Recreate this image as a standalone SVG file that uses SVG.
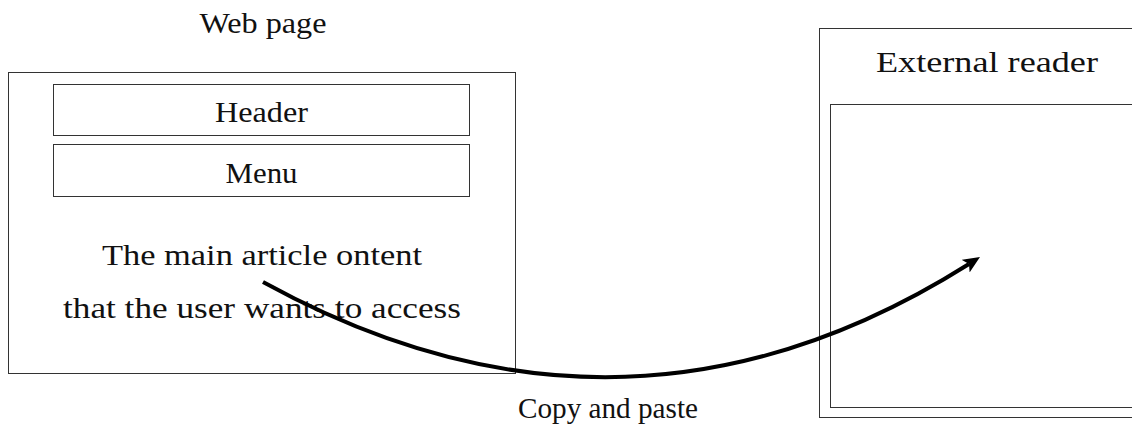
<svg xmlns="http://www.w3.org/2000/svg" width="1132" height="428" viewBox="0 0 1132 428">
<style>
.box{fill:none;stroke:#333;stroke-width:1}
.t{font-family:"Liberation Serif","Times New Roman",serif;font-size:29px;fill:#111;text-anchor:middle}
.arr{fill:none;stroke:#000;stroke-width:4}
</style>
<defs>
<marker id="ah" viewBox="0 0 17 15" refX="4" refY="7.5" markerWidth="17" markerHeight="15" markerUnits="userSpaceOnUse" orient="auto">
<path d="M0,0 L17,7.5 L0,15 L4,7.5 Z" fill="#000"/>
</marker>
</defs>
<rect width="1132" height="428" fill="#fff"/>
<g id="webpage">
<text class="t" x="263" y="33" textLength="127" lengthAdjust="spacingAndGlyphs">Web page</text>
<rect class="box" x="8.5" y="72.5" width="507" height="301"/>
</g>
<g id="header">
<rect class="box" x="53.5" y="84.5" width="416" height="51"/>
<text class="t" x="261.5" y="122" textLength="93" lengthAdjust="spacingAndGlyphs">Header</text>
</g>
<g id="menu">
<rect class="box" x="53.5" y="144.5" width="416" height="52"/>
<text class="t" x="261.5" y="183" textLength="72" lengthAdjust="spacingAndGlyphs">Menu</text>
</g>
<g id="content">
<text class="t" x="262" y="265" textLength="320" lengthAdjust="spacingAndGlyphs">The main article ontent</text>
<text class="t" x="262" y="318" textLength="398" lengthAdjust="spacingAndGlyphs">that the user wants to access</text>
</g>
<g id="reader">
<rect class="box" x="819.5" y="28.5" width="320" height="389"/>
<text class="t" x="987" y="72" textLength="222" lengthAdjust="spacingAndGlyphs">External reader</text>
<rect class="box" x="830.5" y="104.5" width="310" height="303"/>
</g>
<g id="connectors">
<path class="arr" d="M263,282 Q625,481 969,264" marker-end="url(#ah)"/>
<text class="t" x="608" y="418" textLength="180" lengthAdjust="spacingAndGlyphs">Copy and paste</text>
</g>
</svg>
